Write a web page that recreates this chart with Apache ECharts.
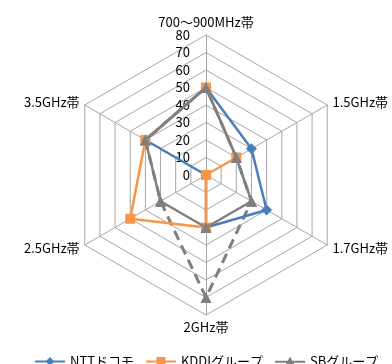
<!DOCTYPE html>
<html><head><meta charset="utf-8">
<script src="https://cdn.jsdelivr.net/npm/echarts@6/dist/echarts.min.js"></script>
<style>html,body{margin:0;padding:0;background:#fff}#c{width:392px;height:364px}</style>
</head><body><div id="c"></div>
<script>
// clockwise from top
const categories = ['700～900MHz帯','1.5GHz帯','1.7GHz帯','2GHz帯','2.5GHz帯','3.5GHz帯'];
const nttValues  = [50, 30, 40, 30, 0, 40];
const kddiValues = [50, 20, 0, 30, 50, 40];
const sbValues   = [50, 20, 30, 30, 30, 40];
const sbDashedValues = [50, 20, 30, 70, 30, 40];
const seriesNames = ['NTTドコモ','KDDIグループ','SBグループ'];
const axisMax = 80;
const tickLabels = ['0','10','20','30','40','50','60','70','80'];

// ECharts places indicators counter-clockwise; reorder to draw clockwise
const order = [0,5,4,3,2,1];
const reorder = a => order.map(i => a[i]);

const FONT = '"Noto Sans CJK JP", "Noto Sans", sans-serif';
const BLUE = '#4A7EBB', ORANGE = '#F79646', GRAY = '#7F7F7F';

const indicator = reorder(categories).map((n, i) => {
  const o = {name: n, min: 0, max: axisMax};
  if (i === 0) o.axisLabel = {show: true};
  return o;
});

const chart = echarts.init(document.getElementById('c'), null, {renderer: 'canvas'});
chart.setOption({
  animation: false,
  backgroundColor: '#fff',
  legend: {
    bottom: -9, left: 30, width: 370, orient: 'horizontal',
    itemWidth: 30, itemHeight: 10, itemGap: 12,
    textStyle: {fontFamily: FONT, fontSize: 13, color: '#000'},
    data: [
      {name: seriesNames[0], icon: 'path://M0,4L30,4L30,6L0,6Z M15,0.5L19.5,5L15,9.5L10.5,5Z'},
      {name: seriesNames[1], icon: 'path://M0,4L30,4L30,6L0,6Z M10.5,0.5L19.5,0.5L19.5,9.5L10.5,9.5Z',
        textStyle: {padding: [0, 7, 0, 0]}},
      {name: seriesNames[2], icon: 'path://M0,4L30,4L30,6L0,6Z M15,0L20.5,9.5L9.5,9.5Z'}
    ]
  },
  radar: {
    center: [206, 175],
    radius: 140,
    startAngle: 90,
    shape: 'polygon',
    splitNumber: 8,
    indicator: indicator,
    axisName: {fontFamily: FONT, fontSize: 13, color: '#000'},
    nameGap: 6,
    axisLine: {lineStyle: {color: '#A6A6A6', width: 1}},
    splitLine: {lineStyle: {color: '#A6A6A6', width: 1}},
    splitArea: {show: false},
    axisTick: {show: false},
    axisLabel: {show: false, fontFamily: FONT, fontSize: 13, color: '#000', margin: 16,
      align: 'right', padding: [0, 0, 0, 0],
      formatter: v => tickLabels[Math.round(v / 10)] }
  },
  series: [
    {
      type: 'radar', name: 'SB_dash', z: 1,
      symbol: 'triangle', symbolSize: 11,
      lineStyle: {color: GRAY, width: 3, type: [10, 6]},
      itemStyle: {color: GRAY},
      data: [{value: reorder(sbDashedValues), name: 'SB_dash'}]
    },
    {
      type: 'radar', name: seriesNames[0], z: 2,
      symbol: 'diamond', symbolSize: 11,
      lineStyle: {color: BLUE, width: 2.5},
      itemStyle: {color: BLUE},
      data: [{value: reorder(nttValues), name: seriesNames[0]}]
    },
    {
      type: 'radar', name: seriesNames[1], z: 3,
      symbol: 'rect', symbolSize: 10,
      lineStyle: {color: ORANGE, width: 2.5},
      itemStyle: {color: ORANGE},
      data: [{value: reorder(kddiValues), name: seriesNames[1]}]
    },
    {
      type: 'radar', name: seriesNames[2], z: 4,
      symbol: 'triangle', symbolSize: 11,
      lineStyle: {color: GRAY, width: 2.5},
      itemStyle: {color: GRAY},
      data: [{value: reorder(sbValues), name: seriesNames[2]}]
    }
  ]
});
</script></body></html>
